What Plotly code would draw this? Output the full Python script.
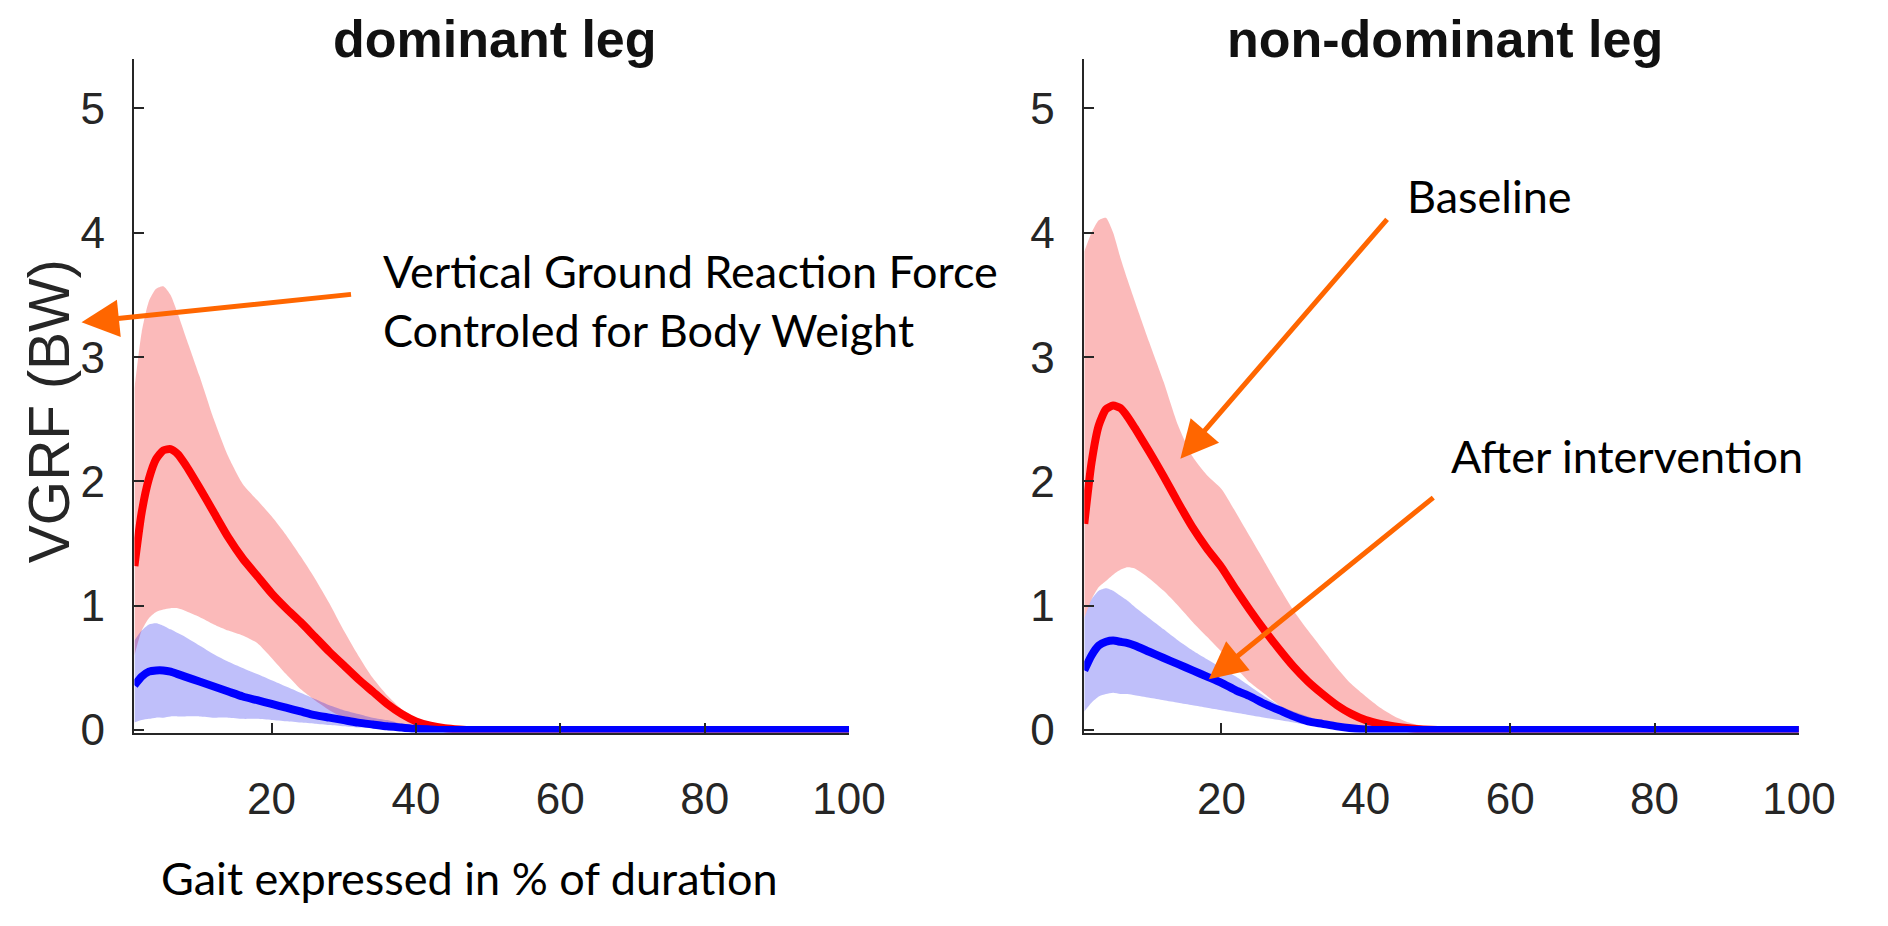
import plotly.graph_objects as go

# gait cycle positions (% of duration) at which the curves were read
gait_pct = [1, 2, 3, 4, 5, 6, 7, 8,
            10, 12, 14, 16, 18, 20, 22, 24, 26, 28, 30, 32, 34, 36, 38, 40, 42, 44, 46, 48, 50,
            60, 70, 80, 90, 100]

# dominant leg - baseline (red)
dom_base_mean = [1.32, 1.75, 2.02, 2.18, 2.25, 2.26, 2.22, 2.14,
                 1.95, 1.75, 1.55, 1.38, 1.24, 1.10, 0.98, 0.87, 0.75, 0.63, 0.52, 0.41, 0.31, 0.21, 0.13, 0.07, 0.035, 0.015, 0.005, 0, 0,
                 0, 0, 0, 0, 0]
dom_base_upper = [2.75, 3.20, 3.45, 3.55, 3.57, 3.50, 3.35, 3.18,
                  2.85, 2.50, 2.20, 1.98, 1.85, 1.72, 1.57, 1.40, 1.22, 1.02, 0.80, 0.60, 0.42, 0.28, 0.17, 0.10, 0.05, 0.025, 0.01, 0, 0,
                  0, 0, 0, 0, 0]
dom_base_lower = [0.60, 0.80, 0.90, 0.95, 0.97, 0.98, 0.98, 0.96,
                  0.91, 0.85, 0.80, 0.76, 0.70, 0.58, 0.45, 0.33, 0.24, 0.16, 0.10, 0.06, 0.03, 0.01, 0, 0, 0, 0, 0, 0, 0,
                  0, 0, 0, 0, 0]
# dominant leg - after intervention (blue)
dom_post_mean = [0.36, 0.43, 0.47, 0.48, 0.48, 0.47, 0.45, 0.43,
                 0.39, 0.35, 0.31, 0.27, 0.24, 0.21, 0.18, 0.15, 0.12, 0.10, 0.08, 0.06, 0.045, 0.03, 0.02, 0.01, 0.005, 0, 0, 0, 0,
                 0, 0, 0, 0, 0]
dom_post_upper = [0.72, 0.80, 0.85, 0.86, 0.84, 0.81, 0.78, 0.75,
                  0.68, 0.61, 0.55, 0.50, 0.45, 0.40, 0.35, 0.30, 0.25, 0.20, 0.16, 0.13, 0.10, 0.08, 0.05, 0.03, 0.015, 0.005, 0, 0, 0,
                  0, 0, 0, 0, 0]
dom_post_lower = [0.06, 0.08, 0.09, 0.10, 0.10, 0.11, 0.11, 0.11,
                  0.11, 0.10, 0.10, 0.09, 0.09, 0.08, 0.07, 0.06, 0.05, 0.04, 0.03, 0.02, 0.015, 0.01, 0.005, 0, 0, 0, 0, 0, 0,
                  0, 0, 0, 0, 0]

# non-dominant leg - baseline (red)
nondom_base_mean = [1.66, 2.15, 2.45, 2.58, 2.61, 2.59, 2.52, 2.43,
                    2.24, 2.04, 1.83, 1.63, 1.46, 1.31, 1.13, 0.96, 0.80, 0.65, 0.51, 0.39, 0.29, 0.20, 0.13, 0.08, 0.05, 0.03, 0.015, 0.005, 0,
                    0, 0, 0, 0, 0]
nondom_base_upper = [3.85, 4.00, 4.10, 4.12, 4.00, 3.80, 3.62, 3.45,
                     3.12, 2.80, 2.45, 2.20, 2.05, 1.94, 1.75, 1.55, 1.35, 1.15, 0.96, 0.80, 0.65, 0.50, 0.37, 0.27, 0.18, 0.11, 0.06, 0.03, 0.01,
                     0, 0, 0, 0, 0]
nondom_base_lower = [0.90, 1.05, 1.15, 1.20, 1.25, 1.29, 1.31, 1.30,
                     1.22, 1.12, 1.00, 0.87, 0.75, 0.63, 0.50, 0.38, 0.29, 0.20, 0.13, 0.08, 0.04, 0.02, 0.005, 0, 0, 0, 0, 0, 0,
                     0, 0, 0, 0, 0]
# non-dominant leg - after intervention (blue)
nondom_post_mean = [0.48, 0.60, 0.68, 0.71, 0.72, 0.71, 0.70, 0.68,
                    0.63, 0.58, 0.53, 0.48, 0.43, 0.38, 0.32, 0.27, 0.21, 0.16, 0.11, 0.07, 0.05, 0.03, 0.015, 0.005, 0, 0, 0, 0, 0,
                    0, 0, 0, 0, 0]
nondom_post_upper = [0.90, 1.05, 1.12, 1.14, 1.12, 1.08, 1.04, 0.99,
                     0.90, 0.81, 0.72, 0.64, 0.57, 0.50, 0.43, 0.35, 0.27, 0.20, 0.15, 0.11, 0.07, 0.05, 0.03, 0.015, 0.005, 0, 0, 0, 0,
                     0, 0, 0, 0, 0]
nondom_post_lower = [0.15, 0.22, 0.27, 0.29, 0.30, 0.29, 0.29, 0.28,
                     0.26, 0.24, 0.22, 0.20, 0.18, 0.16, 0.14, 0.12, 0.10, 0.08, 0.06, 0.04, 0.025, 0.01, 0.005, 0, 0, 0, 0, 0, 0,
                     0, 0, 0, 0, 0]

x_ticks = [20, 40, 60, 80, 100]
y_ticks = [0, 1, 2, 3, 4, 5]

# page geometry (body keeps its default 8px margin)
W, H, OFF = 1872, 910, 8


def px(X):
    return (X - OFF) / W


def py(Y):
    return 1 - (Y - OFF) / H


RED, BLUE = '#ff0000', '#0000ff'
RED_FILL, BLUE_FILL = 'rgba(240,0,0,0.27)', 'rgba(20,20,235,0.27)'
AXIS = '#262626'

fig = go.Figure()


def add_panel(xa, ya, base_m, base_u, base_l, post_m, post_u, post_l):
    band_x = gait_pct + gait_pct[::-1]
    fig.add_trace(go.Scatter(x=band_x, y=base_u + base_l[::-1], fill='toself', fillcolor=RED_FILL,
                             line=dict(width=0, shape='spline', smoothing=0.6), mode='lines',
                             xaxis=xa, yaxis=ya, showlegend=False, hoverinfo='skip'))
    fig.add_trace(go.Scatter(x=band_x, y=post_u + post_l[::-1], fill='toself', fillcolor=BLUE_FILL,
                             line=dict(width=0, shape='spline', smoothing=0.6), mode='lines',
                             xaxis=xa, yaxis=ya, showlegend=False, hoverinfo='skip'))
    fig.add_trace(go.Scatter(x=gait_pct, y=base_m, mode='lines', name='Baseline',
                             line=dict(color=RED, width=8, shape='spline', smoothing=0.6),
                             xaxis=xa, yaxis=ya, showlegend=False))
    fig.add_trace(go.Scatter(x=gait_pct, y=post_m, mode='lines', name='After intervention',
                             line=dict(color=BLUE, width=8, shape='spline', smoothing=0.6),
                             xaxis=xa, yaxis=ya, showlegend=False))


add_panel('x', 'y', dom_base_mean, dom_base_upper, dom_base_lower,
          dom_post_mean, dom_post_upper, dom_post_lower)
add_panel('x2', 'y2', nondom_base_mean, nondom_base_upper, nondom_base_lower,
          nondom_post_mean, nondom_post_upper, nondom_post_lower)

tick_font = dict(family='Liberation Sans, Arial, sans-serif', size=44, color=AXIS)
xaxis_style = dict(range=[1, 100], tickvals=x_ticks, showgrid=False, zeroline=False,
                   showline=True, linecolor=AXIS, linewidth=1.5, ticks='inside', ticklen=10,
                   tickwidth=1.5, tickcolor=AXIS, tickfont=tick_font, ticklabelstandoff=27)
yaxis_style = dict(range=[-0.02, 5.4], tickvals=y_ticks, showgrid=False, zeroline=False,
                   showline=True, linecolor=AXIS, linewidth=1.5, ticks='inside', ticklen=10,
                   tickwidth=1.5, tickcolor=AXIS, tickfont=tick_font, ticklabelstandoff=19)

y_dom = [py(750.5), py(60)]
fig.update_layout(
    width=W, height=H,
    margin=dict(l=0, r=0, t=0, b=0),
    paper_bgcolor='white', plot_bgcolor='white',
    xaxis=dict(domain=[px(137), px(866)], anchor='y', **xaxis_style),
    yaxis=dict(domain=y_dom, anchor='x', **yaxis_style),
    xaxis2=dict(domain=[px(1106), px(1835)], anchor='y2', **xaxis_style),
    yaxis2=dict(domain=y_dom, anchor='x2', **yaxis_style),
)

title_font = dict(family='Liberation Sans, Arial, sans-serif', size=52, color='#111111')
note_font = dict(family='Lato, Carlito, sans-serif', size=45, color='black')
ORANGE = '#ff6600'

# panel titles hang from the top of the figure
for title, cx in [('<b>dominant leg</b>', 505), ('<b>non-dominant leg</b>', 1474)]:
    fig.add_annotation(xref='paper', yref='paper', x=px(cx), y=1, xanchor='center', yanchor='top',
                       text=title, showarrow=False, font=title_font)

texts = [
    dict(text='VGRF (BW)', x=50, y=421, xanchor='center', textangle=-90,
         font=dict(family='Liberation Sans, Arial, sans-serif', size=57, color=AXIS)),
    dict(text='Vertical Ground Reaction Force<br>Controled for Body Weight', x=389, y=308,
         xanchor='left', align='left', font=note_font),
    dict(text='Baseline', x=1433, y=201, xanchor='left', font=note_font),
    dict(text='After intervention', x=1478, y=467, xanchor='left', font=note_font),
    dict(text='Gait expressed in % of duration', x=162, y=900, xanchor='left', font=note_font),
]
for t in texts:
    fig.add_annotation(xref='paper', yref='paper', x=px(t.pop('x')), y=py(t.pop('y')),
                       yanchor='middle', showarrow=False, **t)

# arrows: (head X, head Y, tail X, tail Y) in page pixels
arrows = [(83, 330, 354, 302), (1204, 470, 1412, 229), (1233, 696, 1459, 513)]
for hx, hy, tx, ty in arrows:
    fig.add_annotation(xref='paper', yref='paper', x=px(hx), y=py(hy), text='',
                       showarrow=True, ax=tx - hx, ay=ty - hy, axref='pixel', ayref='pixel',
                       arrowhead=2, arrowsize=1.5, arrowwidth=5, arrowcolor=ORANGE)

fig.write_html("out.html", config={'displayModeBar': False})
